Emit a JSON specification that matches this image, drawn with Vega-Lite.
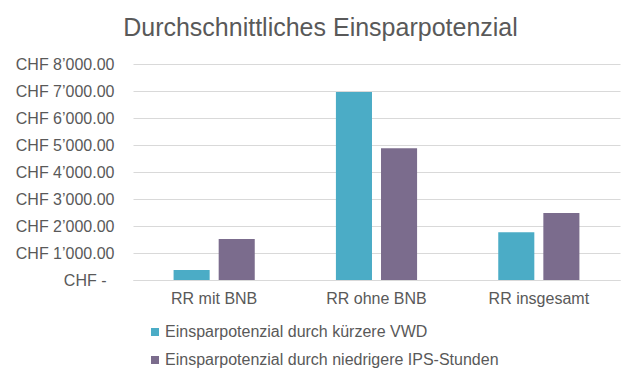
{
  "$schema": "https://vega.github.io/schema/vega-lite/v6.json",
  "autosize": "none",
  "width": 487,
  "height": 216,
  "padding": {"left": 133, "top": 64, "right": 20, "bottom": 104},
  "background": "white",
  "title": {
    "text": "Durchschnittliches Einsparpotenzial",
    "anchor": "middle",
    "frame": "group",
    "dx": -56,
    "fontSize": 25,
    "font": "Liberation Sans",
    "fontWeight": "normal",
    "color": "#595959",
    "offset": 15
  },
  "data": {
    "values": [
      {"Kategorie": "RR mit BNB", "Serie": "Einsparpotenzial durch kürzere VWD", "Wert": 370},
      {"Kategorie": "RR mit BNB", "Serie": "Einsparpotenzial durch niedrigere IPS-Stunden", "Wert": 1520},
      {"Kategorie": "RR ohne BNB", "Serie": "Einsparpotenzial durch kürzere VWD", "Wert": 6965},
      {"Kategorie": "RR ohne BNB", "Serie": "Einsparpotenzial durch niedrigere IPS-Stunden", "Wert": 4880},
      {"Kategorie": "RR insgesamt", "Serie": "Einsparpotenzial durch kürzere VWD", "Wert": 1765},
      {"Kategorie": "RR insgesamt", "Serie": "Einsparpotenzial durch niedrigere IPS-Stunden", "Wert": 2480}
    ]
  },
  "mark": {"type": "bar"},
  "encoding": {
    "x": {
      "field": "Kategorie",
      "type": "nominal",
      "sort": ["RR mit BNB", "RR ohne BNB", "RR insgesamt"],
      "scale": {"paddingInner": 0.5, "paddingOuter": 0.25},
      "axis": {
        "title": null,
        "labelAngle": 0,
        "labelFontSize": 16,
        "labelFont": "Liberation Sans",
        "labelColor": "#595959",
        "labelPadding": 10,
        "ticks": false,
        "domainColor": "#d9d9d9",
        "domainWidth": 1
      }
    },
    "xOffset": {
      "field": "Serie",
      "type": "nominal",
      "scale": {"paddingInner": 0.2}
    },
    "y": {
      "field": "Wert",
      "type": "quantitative",
      "scale": {"domain": [0, 8000], "nice": false},
      "axis": {
        "title": null,
        "values": [0, 1000, 2000, 3000, 4000, 5000, 6000, 7000, 8000],
        "labelExpr": "datum.value == 0 ? 'CHF -' : 'CHF ' + replace(format(datum.value, ',.2f'), ',', '\u2019')",
        "labelFontSize": 16,
        "labelFont": "Liberation Sans",
        "labelColor": "#595959",
        "labelPadding": {"condition": {"test": "datum.value == 0", "value": 27}, "value": 19},
        "labelLimit": 300,
        "ticks": false,
        "domain": false,
        "gridColor": "#d9d9d9",
        "gridWidth": 1
      }
    },
    "color": {
      "field": "Serie",
      "type": "nominal",
      "scale": {
        "domain": ["Einsparpotenzial durch kürzere VWD", "Einsparpotenzial durch niedrigere IPS-Stunden"],
        "range": ["#4bacc6", "#7b6c8d"]
      },
      "legend": {
        "title": null,
        "orient": "none",
        "legendX": 14,
        "legendY": 260,
        "direction": "vertical",
        "symbolType": "square",
        "symbolSize": 64,
        "symbolStrokeWidth": 0,
        "labelFontSize": 16,
        "labelFont": "Liberation Sans",
        "labelColor": "#595959",
        "labelOffset": 2,
        "labelLimit": 500,
        "rowPadding": 12,
        "padding": 0
      }
    }
  },
  "config": {"view": {"stroke": null}}
}
